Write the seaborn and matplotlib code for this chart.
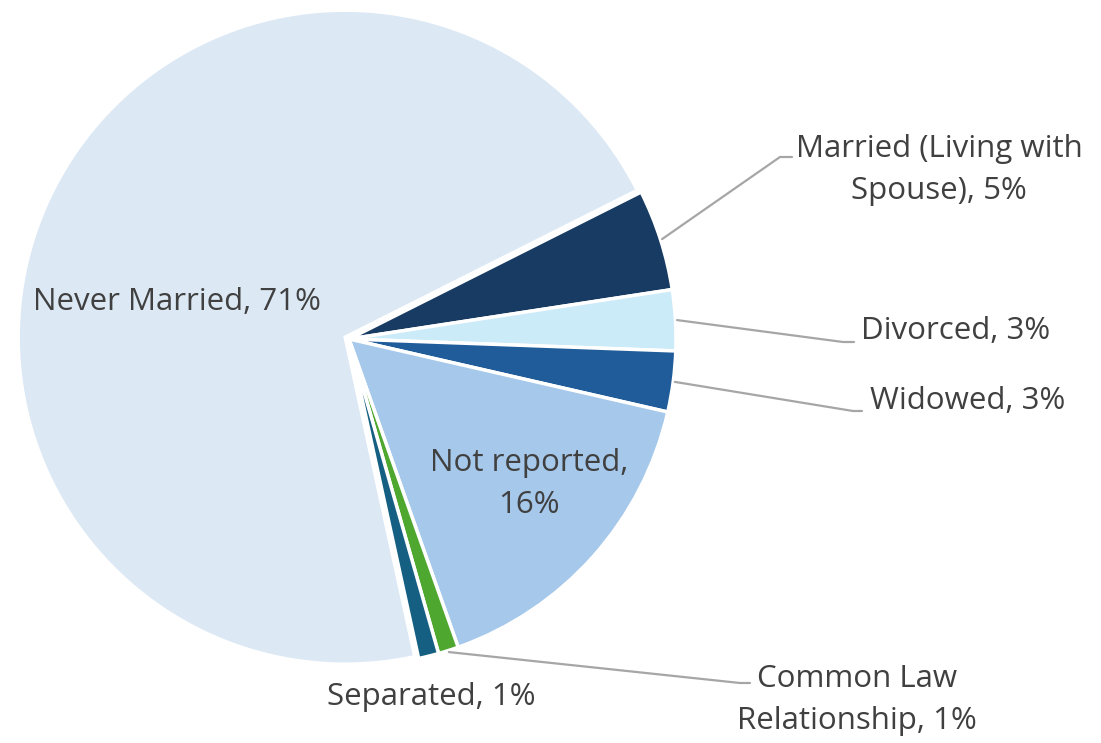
import numpy as np
import matplotlib
matplotlib.use("Agg")
from matplotlib import pyplot as plt
import seaborn as sns

# data, clockwise from the upper right
labels = ["Married (Living with\nSpouse)", "Divorced", "Widowed", "Not reported",
          "Common Law\nRelationship", "Separated", "Never Married"]
shares = [5, 3, 3, 16, 1, 1, 71]
colors = ["#173B62", "#CCEBF9", "#1F5C99", "#A6C8EA", "#4EA72E", "#156082", "#DCE9F5"]

sns.set_theme(style="white")
plt.rcParams["font.family"] = ["Open Sans", "DejaVu Sans"]
TXT = "#404040"

fig = plt.figure(figsize=(11.01, 7.43), dpi=100)
ax = fig.add_axes([0, 0, 1, 1])
R = 327.0  # pie radius in px
cx, cy = 349.0, 339.0

explode = [0, 0, 0, 0, 0, 0, 0.013]
wedges, _ = ax.pie(shares, colors=colors, startangle=26.7, counterclock=False,
                   explode=explode, radius=1.0,
                   wedgeprops=dict(edgecolor="white", linewidth=2.5), frame=True)
ax.set_xlim(-cx / R, (1101 - cx) / R)
ax.set_ylim(-(743 - cy) / R, cy / R)
ax.set_aspect("auto")
ax.axis("off")

def px(x, y):
    return (x - cx) / R, (cy - y) / R

def mid(w):
    a = np.deg2rad((w.theta1 + w.theta2) / 2)
    return np.cos(a), np.sin(a)

fs = 22.5
texts = {
    0: (939, 170), 1: (956, 331), 2: (968, 401), 3: (529, 484),
    4: (857, 700), 5: (431, 697), 6: (177, 302),
}
elbows = {0: [(780, 157), (792, 157)], 1: [(843, 342), (854, 342)],
          2: [(853, 411), (862, 411)], 4: [(740, 683), (750, 683)]}

for i, (lab, val) in enumerate(zip(labels, shares)):
    s = f"{lab}, {val}%"
    if i == 3:
        s = f"{lab},\n{val}%"
    x, y = px(*texts[i])
    ax.text(x, y, s, ha="center", va="center", fontsize=fs, color=TXT,
            linespacing=1.5)
    if i in elbows:
        mx, my = mid(wedges[i])
        pts = [(mx * 1.005, my * 1.005)] + [px(*p) for p in elbows[i]]
        ax.plot([p[0] for p in pts], [p[1] for p in pts], color="#A6A6A6", lw=1.6)

plt.savefig("out.png", dpi=100)
